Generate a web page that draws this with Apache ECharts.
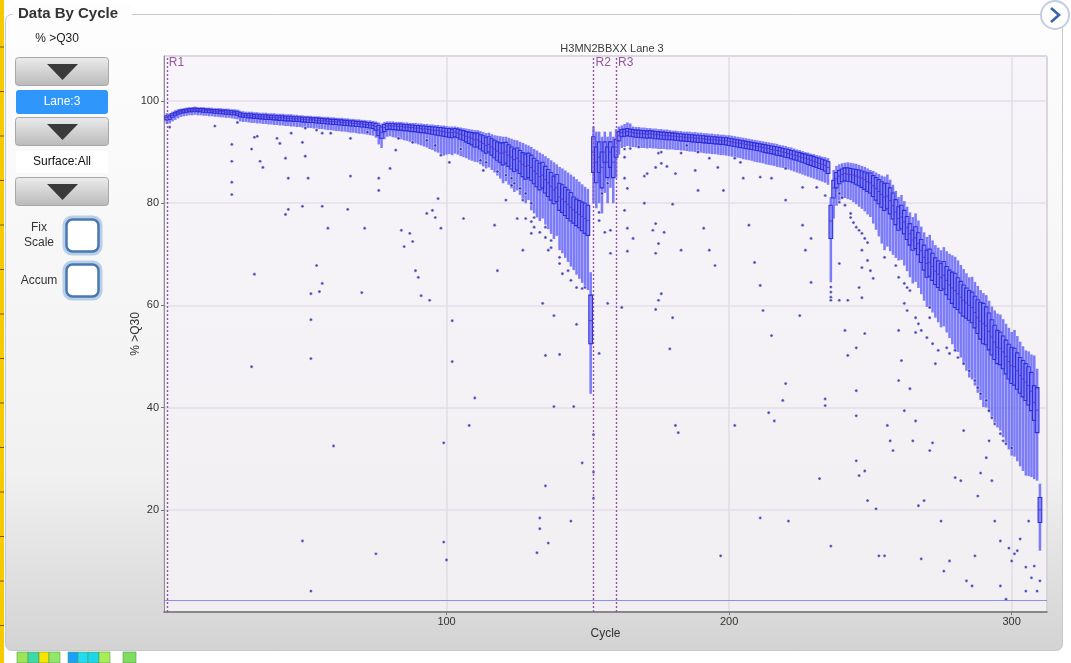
<!DOCTYPE html>
<html><head><meta charset="utf-8">
<script src="https://cdn.jsdelivr.net/npm/echarts@6/dist/echarts.min.js"></script>
<style>html,body{margin:0;padding:0;background:#fff;}#c{width:1071px;height:663px;}</style>
</head><body><div id="c"></div><script>
// ---------------- data ----------------
const chartTitle = 'H3MN2BBXX Lane 3';
const panelTitle = 'Data By Cycle';
const metricName = '% >Q30';
const xName = 'Cycle';
const readStarts = [1, 152, 160];
const readLabels = ['R1', 'R2', 'R3'];
const baselineValue = 2.3;
// each row: [low whisker, Q1, median, Q3, high whisker]
const read1Boxes = [ // cycles 1..151
[95.5,96.3,96.8,97.1,97.6],[95.6,96.4,96.9,97.2,97.6],[96.0,96.8,97.2,97.5,97.9],[96.3,97.1,97.5,97.8,98.2],[96.6,97.4,97.7,98.0,98.4],
[96.9,97.6,97.9,98.2,98.5],[97.0,97.7,98.0,98.3,98.6],[97.1,97.8,98.1,98.4,98.7],[97.2,97.9,98.2,98.5,98.8],[97.2,97.9,98.2,98.5,98.8],
[97.3,98.0,98.3,98.6,98.9],[97.2,97.9,98.2,98.5,98.8],[97.2,97.9,98.2,98.5,98.8],[97.1,97.8,98.2,98.5,98.8],[97.1,97.8,98.1,98.4,98.7],
[97.0,97.7,98.1,98.4,98.7],[97.0,97.7,98.0,98.3,98.7],[96.9,97.6,98.0,98.3,98.6],[96.9,97.6,97.9,98.3,98.6],[96.8,97.5,97.9,98.2,98.6],
[96.8,97.5,97.9,98.2,98.5],[96.7,97.4,97.8,98.2,98.5],[96.7,97.4,97.8,98.1,98.5],[96.6,97.3,97.7,98.1,98.4],[96.5,97.3,97.7,98.0,98.4],
[96.4,97.2,97.6,98.0,98.3],[96.0,96.9,97.3,97.7,98.1],[95.9,96.8,97.2,97.6,98.0],[95.9,96.8,97.2,97.5,97.9],[95.8,96.7,97.1,97.5,97.9],
[95.7,96.7,97.1,97.5,97.9],[95.7,96.6,97.0,97.4,97.8],[95.6,96.6,97.0,97.4,97.8],[95.6,96.5,96.9,97.3,97.7],[95.5,96.5,96.9,97.3,97.7],
[95.5,96.4,96.9,97.3,97.7],[95.4,96.4,96.8,97.2,97.6],[95.4,96.4,96.8,97.2,97.6],[95.3,96.3,96.8,97.2,97.6],[95.3,96.3,96.7,97.1,97.5],
[95.2,96.2,96.7,97.1,97.5],[95.2,96.2,96.7,97.1,97.5],[95.1,96.1,96.6,97.0,97.4],[95.1,96.1,96.6,97.0,97.4],[95.0,96.1,96.6,97.0,97.4],
[95.0,96.0,96.5,96.9,97.3],[94.9,96.0,96.5,96.9,97.3],[94.9,96.0,96.5,96.9,97.2],[94.8,95.9,96.4,96.8,97.2],[94.8,95.9,96.4,96.8,97.1],
[94.7,95.8,96.3,96.8,97.1],[94.7,95.8,96.3,96.7,97.1],[94.6,95.8,96.3,96.7,97.0],[94.6,95.7,96.2,96.7,97.0],[94.5,95.7,96.2,96.6,97.0],
[94.5,95.6,96.1,96.6,96.9],[94.4,95.6,96.1,96.5,96.9],[94.3,95.5,96.0,96.5,96.9],[94.3,95.5,96.0,96.4,96.8],[94.2,95.4,96.0,96.4,96.8],
[94.1,95.4,95.9,96.4,96.7],[94.1,95.3,95.9,96.3,96.7],[94.0,95.3,95.8,96.3,96.7],[94.0,95.2,95.8,96.2,96.6],[93.9,95.2,95.7,96.2,96.6],
[93.8,95.1,95.7,96.1,96.5],[93.8,95.1,95.6,96.1,96.5],[93.7,95.0,95.6,96.0,96.4],[93.6,95.0,95.5,96.0,96.4],[93.6,94.9,95.5,95.9,96.3],
[93.5,94.9,95.4,95.9,96.3],[93.4,94.8,95.4,95.8,96.2],[93.3,94.7,95.3,95.8,96.2],[93.2,94.6,95.2,95.7,96.1],[92.8,94.3,95.0,95.6,96.0],
[91.5,93.2,94.3,95.2,95.8],[90.8,92.7,93.8,94.9,95.6],[92.5,94.0,94.8,95.4,95.9],[93.0,94.4,95.1,95.6,96.0],[93.1,94.5,95.2,95.6,96.0],
[92.9,94.4,95.1,95.6,96.0],[92.8,94.4,95.1,95.5,95.9],[92.6,94.3,95.0,95.5,95.9],[92.5,94.3,95.0,95.5,95.9],[92.3,94.2,94.9,95.4,95.8],
[92.2,94.2,94.9,95.4,95.8],[92.0,94.1,94.8,95.3,95.7],[91.9,94.0,94.8,95.3,95.7],[91.7,94.0,94.7,95.2,95.7],[91.5,93.9,94.7,95.2,95.6],
[91.3,93.8,94.6,95.1,95.6],[91.1,93.8,94.5,95.1,95.5],[90.9,93.7,94.5,95.0,95.5],[90.6,93.6,94.4,95.0,95.4],[90.4,93.5,94.3,94.9,95.4],
[90.1,93.4,94.2,94.9,95.3],[89.9,93.3,94.2,94.8,95.3],[89.6,93.2,94.1,94.8,95.2],[89.3,93.1,94.0,94.7,95.2],[89.5,93.0,93.9,94.6,95.1],
[89.6,92.9,93.8,94.6,95.0],[89.4,92.8,93.8,94.5,95.0],[89.7,93.0,93.9,94.6,95.0],[89.5,92.8,93.7,94.5,94.9],[89.2,92.5,93.5,94.3,94.8],
[89.0,92.3,93.3,94.2,94.7],[88.8,92.0,93.1,94.0,94.6],[88.5,91.7,92.9,93.9,94.5],[88.3,91.4,92.7,93.8,94.4],[88.1,91.0,92.4,93.7,94.3],
[88.0,91.0,92.4,93.7,94.3],[87.6,90.6,92.0,93.4,94.1],[87.2,90.2,91.7,93.2,93.9],[86.8,89.8,91.3,92.9,93.7],[87.0,90.0,91.5,93.0,93.8],
[86.5,89.4,91.0,92.6,93.5],[86.0,88.9,90.6,92.3,93.3],[85.4,88.4,90.2,92.0,93.2],[84.8,88.0,89.8,91.8,93.1],[83.9,87.5,89.8,91.8,93.0],
[84.3,87.8,90.0,91.9,93.0],[83.6,87.2,89.4,91.4,92.8],[82.9,86.7,89.0,91.0,92.6],[82.2,86.2,88.5,90.6,92.4],[82.5,86.5,88.8,90.8,92.3],
[81.6,85.8,88.2,90.3,92.0],[80.8,85.2,87.6,89.9,91.8],[80.0,84.7,87.2,89.6,91.5],[80.6,85.0,87.4,89.8,91.3],[78.6,84.5,87.0,89.4,91.0],
[78.0,83.8,86.3,88.8,90.6],[77.2,83.2,85.8,88.3,90.3],[76.5,82.6,85.2,87.8,89.9],[77.0,83.0,85.5,88.0,89.6],[75.8,82.0,84.6,87.2,89.2],
[74.9,81.3,84.0,86.6,88.8],[74.0,80.6,83.3,86.0,88.4],[73.0,79.9,82.6,85.3,88.0],[73.6,80.3,83.0,85.6,87.6],[70.8,78.6,81.2,83.9,87.1],
[70.2,78.2,80.8,83.6,86.8],[69.3,77.6,80.3,83.1,86.4],[68.5,77.0,79.8,82.6,86.0],[67.6,76.5,79.2,82.1,85.6],[66.9,76.1,78.7,81.2,85.2],
[66.0,75.6,78.2,80.8,84.7],[65.2,75.2,77.8,80.5,84.2],[64.4,74.6,77.4,80.2,83.7],[63.6,74.1,77.0,80.0,83.2],[63.0,73.7,76.6,79.6,82.8],
[42.7,52.5,57.0,62.0,66.5]
];
const indexBoxes = [ // cycles 152..159
[80.0,86.0,90.0,93.0,95.0],[79.0,84.0,88.0,91.0,94.0],[80.0,86.0,89.0,92.0,94.0],[78.0,83.0,87.0,90.0,93.0],
[82.0,88.0,90.0,92.0,94.0],[80.0,85.0,88.0,91.0,93.0],[83.0,87.0,90.0,92.0,94.0],[80.0,85.0,88.0,91.0,93.0]
];
const read3Boxes = [ // cycles 160..310
[85.0,89.0,91.0,92.5,94.5],[89.5,92.2,93.2,94.0,95.0],[90.8,93.0,93.8,94.4,95.2],[91.0,93.1,93.9,94.5,95.5],[91.2,93.2,94.0,94.6,95.8],
[91.0,93.1,93.9,94.5,95.6],[91.0,93.0,93.8,94.4,95.0],[90.9,92.9,93.7,94.3,94.9],[90.9,92.9,93.7,94.3,94.9],[90.8,92.8,93.6,94.2,94.8],
[90.8,92.8,93.6,94.2,94.8],[90.7,92.7,93.5,94.1,94.7],[90.8,92.8,93.6,94.2,94.7],[90.7,92.7,93.5,94.1,94.6],[90.7,92.6,93.4,94.0,94.6],
[90.6,92.6,93.4,94.0,94.5],[90.6,92.5,93.3,93.9,94.5],[90.6,92.5,93.3,93.9,94.4],[90.5,92.4,93.2,93.8,94.4],[90.5,92.4,93.2,93.8,94.3],
[90.5,92.4,93.1,93.7,94.2],[90.4,92.3,93.1,93.7,94.2],[90.4,92.3,93.0,93.6,94.1],[90.3,92.2,93.0,93.6,94.1],[90.3,92.2,92.9,93.5,94.0],
[90.2,92.1,92.9,93.5,94.0],[90.1,92.1,92.8,93.4,94.0],[90.1,92.0,92.8,93.4,93.9],[90.0,92.0,92.7,93.3,93.9],[89.9,91.9,92.7,93.3,93.8],
[89.9,91.9,92.6,93.2,93.8],[89.8,91.8,92.6,93.2,93.7],[89.7,91.8,92.5,93.1,93.7],[89.7,91.7,92.5,93.1,93.6],[89.6,91.7,92.4,93.0,93.6],
[89.6,91.6,92.4,93.0,93.5],[89.5,91.6,92.3,92.9,93.5],[89.4,91.5,92.3,92.9,93.4],[89.4,91.5,92.2,92.8,93.4],[89.3,91.4,92.2,92.8,93.3],
[89.2,91.3,92.1,92.7,93.3],[89.1,91.2,92.0,92.6,93.2],[89.0,91.1,91.9,92.5,93.1],[88.9,91.0,91.8,92.4,93.0],[88.8,90.9,91.7,92.3,92.9],
[88.6,90.8,91.6,92.2,92.8],[88.5,90.7,91.5,92.1,92.7],[88.4,90.6,91.4,92.0,92.6],[88.3,90.5,91.3,91.9,92.5],[88.1,90.4,91.2,91.8,92.4],
[88.0,90.3,91.1,91.7,92.3],[87.9,90.2,91.0,91.6,92.2],[87.8,90.0,90.9,91.5,92.1],[87.6,89.9,90.8,91.4,92.0],[87.5,89.8,90.7,91.3,91.9],
[87.4,89.7,90.5,91.2,91.8],[87.3,89.6,90.4,91.1,91.7],[87.1,89.4,90.3,91.0,91.6],[87.0,89.3,90.2,90.9,91.4],[86.9,89.2,90.0,90.7,91.3],
[86.8,89.0,89.9,90.6,91.2],[86.6,88.9,89.7,90.5,91.0],[86.4,88.7,89.6,90.3,90.9],[86.2,88.5,89.4,90.2,90.7],[86.0,88.4,89.3,90.0,90.5],
[85.8,88.2,89.1,89.9,90.4],[85.6,88.0,88.9,89.7,90.2],[85.4,87.8,88.8,89.6,90.0],[85.2,87.6,88.6,89.4,89.9],[85.0,87.4,88.4,89.3,89.7],
[84.8,87.2,88.2,89.1,89.6],[84.6,87.0,88.0,88.9,89.4],[84.4,86.8,87.8,88.8,89.3],[84.2,86.6,87.6,88.6,89.1],[84.0,86.3,87.4,88.4,89.0],
[83.6,85.8,87.0,88.1,88.8],[64.5,73.1,76.5,79.6,81.2],[77.0,81.0,83.0,84.5,86.5],[79.5,83.0,84.8,86.0,87.3],[80.5,83.8,85.3,86.4,87.6],
[80.8,84.2,85.6,86.7,87.8],[81.0,84.4,85.8,86.9,87.9],[80.8,84.3,85.7,86.9,88.0],[80.6,84.2,85.6,86.8,87.9],[80.2,84.0,85.5,86.7,87.8],
[79.8,83.7,85.3,86.6,87.7],[79.3,83.4,85.1,86.5,87.5],[78.9,83.1,84.9,86.3,87.3],[78.4,82.7,84.6,86.1,87.1],[77.8,82.3,84.2,85.9,86.8],
[77.3,82.0,84.0,85.9,86.5],[76.0,81.3,83.4,85.4,86.3],[74.8,80.6,82.9,85.0,86.0],[73.5,79.9,82.3,84.6,85.7],[72.1,79.2,81.7,84.2,85.4],
[70.8,78.6,81.2,83.9,85.2],[71.5,78.9,81.4,83.9,85.6],[70.6,77.9,80.5,83.0,84.6],[69.9,76.9,79.5,82.0,83.6],[69.3,75.8,78.3,80.7,82.4],
[68.8,74.7,77.0,79.3,81.2],[68.9,75.0,77.3,79.6,81.6],[67.8,74.0,76.3,78.6,80.4],[66.7,72.9,75.2,77.4,79.3],[65.5,71.8,74.0,76.0,78.2],
[64.3,70.8,72.8,74.7,77.3],[64.6,71.1,73.2,75.4,78.0],[63.4,69.9,72.1,74.2,76.6],[62.2,68.4,70.7,72.9,75.4],[60.9,66.9,69.4,71.8,74.3],
[59.7,65.5,68.2,70.8,73.4],[59.5,65.7,68.4,71.0,73.8],[58.6,64.9,67.6,70.2,72.7],[57.6,64.1,66.7,69.3,71.8],[56.7,63.5,66.1,68.7,71.3],
[55.7,62.9,65.5,68.2,70.8],[55.9,63.2,65.9,68.6,71.4],[54.7,62.1,64.9,67.6,70.6],[53.6,61.2,64.0,66.9,70.1],[52.4,60.4,63.4,66.5,69.8],
[51.2,59.6,62.9,66.3,69.5],[50.9,59.2,62.3,65.4,68.8],[49.8,58.5,61.6,64.7,67.9],[48.6,57.9,61.0,64.0,67.1],[47.2,57.5,60.5,63.4,66.3],
[45.9,57.1,60.0,62.9,65.5],[45.5,56.6,59.6,62.6,65.6],[44.3,55.6,58.6,61.8,64.6],[42.9,54.5,57.6,61.1,63.8],[41.5,53.4,56.9,60.6,63.0],
[40.1,52.5,56.4,60.4,62.4],[40.0,52.3,56.0,59.7,62.0],[39.1,51.3,54.9,58.5,60.9],[38.1,50.3,53.8,57.2,59.8],[37.1,49.4,52.8,56.1,59.0],
[36.1,48.6,51.8,55.1,58.4],[35.5,48.4,51.6,54.8,58.2],[34.2,47.6,50.9,54.0,57.3],[33.0,46.6,50.0,53.2,56.4],[31.8,45.6,49.0,52.4,55.6],
[30.6,44.7,48.2,51.8,54.8],[30.4,44.4,48.0,51.6,55.2],[29.5,43.6,47.2,50.7,54.0],[28.5,42.8,46.3,49.8,52.9],[27.6,42.1,45.6,49.2,52.0],
[26.7,41.4,45.0,48.6,51.2],[26.6,40.5,44.3,48.0,51.0],[26.4,39.4,43.2,46.9,50.4],[26.0,37.5,41.0,44.3,50.2],[25.7,35.1,39.5,43.9,47.6],
[12.0,17.5,20.0,22.4,25.1]
];
// outlier tiles: [cycle, value]
const outliers = [
[2,94.9],[18,95.1],[24,91.5],[24,88.2],[24,84.1],[24,81.7],[26,95.8],[31,90.6],[31,48.0],[32,92.9],[32,66.1],[33,93.1],[34,88.2],[35,87.0],
[40,92.7],[41,91.7],[43,88.8],[43,77.8],[44,84.9],[44,78.8],[45,93.7],[49,91.9],[49,79.4],[49,13.9],[50,89.2],[50,94.7],[51,84.9],[52,62.3],
[52,57.2],[52,49.6],[52,4.1],[54,67.8],[54,94.3],[55,62.7],[56,93.7],[56,79.4],[56,64.3],[58,75.1],[59,93.7],[60,32.5],[65,78.8],[66,85.3],
[66,92.7],[70,62.5],[71,75.1],[72,93.9],[75,11.4],[76,84.9],[76,82.5],[80,86.8],[82,90.4],[83,92.7],[84,74.7],[85,71.5],[87,74.1],[88,72.5],
[88,91.9],[89,66.8],[90,65.5],[91,61.9],[93,78.0],[93,92.3],[94,61.0],[95,78.6],[96,77.2],[96,91.3],[97,80.9],[98,75.1],[98,89.4],[99,33.1],
[99,13.7],[100,10.2],[101,88.0],[102,57.0],[102,49.0],[105,90.6],[106,77.0],[108,36.5],[110,41.9],[112,88.4],[113,86.4],[114,88.0],[117,75.7],
[118,66.8],[118,86.2],[121,80.6],[121,85.5],[123,84.9],[123,83.5],[124,83.9],[125,77.0],[126,82.9],[127,70.8],[127,80.6],[128,81.9],[128,77.0],
[130,80.0],[130,76.4],[130,74.1],[131,77.2],[131,75.3],[132,11.6],[133,16.3],[133,18.4],[133,74.3],[134,60.4],[135,50.2],[135,24.7],[135,75.3],
[135,73.3],[136,13.5],[136,70.8],[137,72.7],[137,71.3],[138,40.2],[138,58.0],[140,50.4],[140,69.4],[140,68.2],[141,66.2],[143,66.8],[144,17.8],
[144,64.9],[145,40.2],[146,56.3],[146,63.5],[148,29.2],[148,63.3],[149,63.5],[152,34.7],[152,27.4],[152,22.3],
[154,78.2],[154,76.6],[156,74.3],[158,74.7],[158,70.2],[157,83.9],[155,81.9],[157,60.4],[154,50.6],
[162,59.6],[163,90.6],[163,84.9],[163,78.6],[163,89.0],[164,75.1],[164,70.6],[164,82.9],[165,90.7],[166,73.1],[168,91.0],[170,80.0],[170,85.3],
[171,85.8],[173,74.7],[174,76.0],[174,70.2],[174,87.0],[174,59.2],[175,72.1],[175,89.8],[175,61.0],[176,87.8],[176,62.3],[176,90.0],[177,74.3],
[178,87.2],[179,51.5],[180,79.8],[180,57.6],[181,85.8],[181,36.5],[182,35.1],[183,70.8],[183,89.8],[185,91.3],[188,86.4],[189,82.5],[189,90.0],
[191,75.1],[193,70.8],[193,88.8],[195,67.8],[196,87.0],[197,11.0],[198,82.5],[202,36.5],[202,88.8],[204,88.0],[205,84.9],[207,75.7],[209,68.4],
[211,63.9],[211,18.4],[211,85.1],[212,59.0],[214,39.0],[215,54.1],[215,84.9],[216,37.4],[219,41.4],[220,44.7],[220,80.6],[220,86.8],[221,17.8],
[225,58.0],[226,75.7],[226,83.1],[227,70.8],[229,73.1],[229,64.5],[231,83.1],[232,26.1],[234,41.7],[234,40.4],[234,81.5],[236,63.6],[236,62.6],
[236,61.6],[236,61.0],[236,12.9],[239,61.0],[239,81.9],[239,80.2],[239,68.2],[240,81.1],[241,55.1],[241,79.6],[242,61.0],[242,50.2],[243,78.0],
[243,77.2],[244,76.2],[245,43.3],[245,38.4],[245,29.6],[245,75.3],[245,51.7],[246,26.7],[246,74.7],[246,63.5],[247,74.1],[247,70.8],[247,67.4],
[247,61.5],[248,27.6],[248,73.1],[248,54.5],[249,21.8],[249,72.3],[249,68.8],[250,66.8],[251,65.3],[252,20.2],[253,11.0],[255,11.0],[255,69.4],
[256,36.5],[257,33.5],[258,31.6],[259,67.8],[260,45.3],[260,65.5],[260,55.1],[261,49.2],[262,39.4],[262,64.3],[262,60.4],[263,63.5],[263,59.0],
[264,43.7],[264,62.9],[265,33.5],[266,37.4],[266,57.6],[266,54.7],[267,20.8],[267,56.4],[268,10.4],[268,55.1],[269,21.8],[270,53.7],[271,31.6],
[271,57.6],[271,59.6],[272,33.1],[272,52.5],[273,48.6],[274,51.2],[275,17.8],[276,8.0],[277,51.7],[278,10.0],[278,50.6],[280,26.3],[280,51.2],
[281,49.8],[282,25.7],[283,35.5],[283,48.6],[284,6.1],[285,47.2],[286,5.1],[287,11.0],[287,45.3],[288,22.7],[288,43.9],[289,27.2],[289,42.7],
[291,30.2],[291,41.4],[292,33.5],[292,39.4],[293,25.7],[293,38.0],[294,17.8],[294,36.8],[296,13.9],[296,5.1],[296,34.9],[297,33.5],[298,2.5],
[298,32.9],[299,12.5],[300,10.0],[300,32.1],[301,11.4],[302,12.0],[303,14.3],[305,8.8],[305,4.1],[306,17.8],[307,6.7],[308,9.0],[309,4.1],[310,6.1]
];
const xTickValues = [100, 200, 300];
const yTickValues = [20, 40, 60, 80, 100];
const leftControls = { lane: 'Lane:3', surface: 'Surface:All', fix: ['Fix', 'Scale'], accum: 'Accum' };
const bottomSwatches = ['#9be55a','#3fd8a8','#f7e400','#8fe86a','#1aa0ff','#22dcf5','#1ad8e8','#a8ec5a','#7edc62'];

// ---------------- build ----------------
const allBoxes = [];
read1Boxes.forEach((b, i) => allBoxes.push([1 + i].concat(b)));
indexBoxes.forEach((b, i) => allBoxes.push([152 + i].concat(b)));
read3Boxes.forEach((b, i) => allBoxes.push([160 + i].concat(b)));

const chart = echarts.init(document.getElementById('c'), null, { renderer: 'canvas' });
const FONT = 'Liberation Sans, Arial, sans-serif';

function btn(y) {
  return [
    { type: 'rect', z: 20, shape: { x: 15.5, y: y + 0.5, width: 93, height: 28, r: 3 },
      style: { fill: new echarts.graphic.LinearGradient(0, 0, 0, 1, [{ offset: 0, color: '#ececec' }, { offset: 1, color: '#b9b9b9' }]), stroke: '#a8a8a8', lineWidth: 1 } },
    { type: 'polygon', z: 21, shape: { points: [[47, y + 7], [78, y + 7], [62.5, y + 23]] }, style: { fill: '#3a3a3a' } }
  ];
}
function checkbox(y) {
  return [
    { type: 'rect', z: 20, shape: { x: 65, y: y, width: 35, height: 35, r: 7 }, style: { fill: '#ffffff', stroke: '#b9cfe8', lineWidth: 5 } },
    { type: 'rect', z: 21, shape: { x: 66.5, y: y + 1.5, width: 32, height: 32, r: 6 }, style: { fill: '#ffffff', stroke: '#4a78b0', lineWidth: 2.5 } }
  ];
}
const graphics = [
  { type: 'rect', z: -100, silent: true, shape: { x: 5.5, y: 14.5, width: 1057, height: 636, r: 6 },
    style: { fill: new echarts.graphic.LinearGradient(0, 0, 0, 1, [{ offset: 0, color: '#fdfdfd' }, { offset: 0.72, color: '#f1f1f1' }, { offset: 1, color: '#d3d3d3' }]), stroke: '#c8c8c8', lineWidth: 1 } },
  { type: 'rect', z: 20, shape: { x: 13, y: 4, width: 119, height: 20 }, style: { fill: '#fdfdfd' } },
  { type: 'text', z: 21, style: { x: 18, y: 6, text: panelTitle, font: 'bold 15px ' + FONT, fill: '#333333' } },
  { type: 'circle', z: 20, shape: { cx: 1055, cy: 15, r: 14 }, style: { fill: '#ffffff', stroke: '#c3cde0', lineWidth: 2 } },
  { type: 'polyline', z: 21, shape: { points: [[1051, 8], [1059, 15], [1051, 22]] }, style: { stroke: '#3d62a8', lineWidth: 2.6, fill: null } },
  { type: 'rect', z: 30, shape: { x: 0, y: 0, width: 4, height: 663 }, style: { fill: '#f6c900' } },
  { type: 'rect', z: 30, shape: { x: 0, y: 651, width: 1071, height: 12 }, style: { fill: '#ffffff' } },
  { type: 'rect', z: 31, shape: { x: 0, y: 651, width: 4, height: 12 }, style: { fill: '#f6c900' } },
  { type: 'text', z: 21, style: { x: 57, y: 39, text: metricName, font: '12px ' + FONT, fill: '#222', align: 'center', verticalAlign: 'middle' } },
  ...btn(57),
  { type: 'rect', z: 20, shape: { x: 16, y: 90, width: 92, height: 24, r: 3 }, style: { fill: '#2f96fb' } },
  { type: 'text', z: 21, style: { x: 62, y: 102, text: leftControls.lane, font: '12px ' + FONT, fill: '#ffffff', align: 'center', verticalAlign: 'middle' } },
  ...btn(117),
  { type: 'rect', z: 20, shape: { x: 16, y: 151, width: 92, height: 22 }, style: { fill: '#ffffff' } },
  { type: 'text', z: 21, style: { x: 62, y: 162, text: leftControls.surface, font: '12px ' + FONT, fill: '#111', align: 'center', verticalAlign: 'middle' } },
  ...btn(177),
  { type: 'text', z: 21, style: { x: 39, y: 228, text: leftControls.fix[0], font: '12px ' + FONT, fill: '#333', align: 'center', verticalAlign: 'middle' } },
  { type: 'text', z: 21, style: { x: 39, y: 243, text: leftControls.fix[1], font: '12px ' + FONT, fill: '#333', align: 'center', verticalAlign: 'middle' } },
  ...checkbox(218),
  { type: 'text', z: 21, style: { x: 39, y: 281, text: leftControls.accum, font: '12px ' + FONT, fill: '#333', align: 'center', verticalAlign: 'middle' } },
  ...checkbox(263)
];
for (let k = 0; k < 15; k++) {
  graphics.push({ type: 'line', z: 31, shape: { x1: 0, y1: 47 + k * 44.5, x2: 4, y2: 47 + k * 44.5 }, style: { stroke: '#6b5a00', lineWidth: 1 } });
}
const swX = [17, 28, 39, 49, 68, 78, 88, 99, 123];
const swW = [11, 11, 10, 11, 10, 10, 11, 11, 13];
bottomSwatches.forEach((col, k) => {
  graphics.push({ type: 'rect', z: 31, shape: { x: swX[k], y: 652, width: swW[k], height: 11 }, style: { fill: col, stroke: '#5a9a4a', lineWidth: 0.6 } });
});

const option = {
  animation: false,
  backgroundColor: 'transparent',
  textStyle: { fontFamily: FONT },
  title: { text: chartTitle, left: 607, top: 38, textAlign: 'center',
    textStyle: { fontSize: 11, fontWeight: 'normal', color: '#3a3a3a', fontFamily: FONT } },
  graphic: { elements: graphics },
  grid: { left: 164, right: 24, top: 56, bottom: 51, show: true,
    backgroundColor: new echarts.graphic.LinearGradient(0, 0, 0, 1, [{ offset: 0, color: '#f8f5fa' }, { offset: 1, color: '#f1eff2' }]),
    borderColor: '#8e8e8e', borderWidth: 1 },
  xAxis: {
    type: 'value', min: 0, max: 312.5, interval: 100,
    name: xName, nameLocation: 'middle', nameGap: 16, nameMoveOverlap: false,
    nameTextStyle: { fontSize: 12, color: '#333' },
    axisLine: { show: true, lineStyle: { color: '#6e6e6e', width: 1.5 } },
    axisTick: { show: true, length: 3, lineStyle: { color: '#777' } },
    axisLabel: { fontSize: 11, color: '#333', margin: 4, showMinLabel: false, showMaxLabel: false,
      formatter: v => (xTickValues.indexOf(v) >= 0 ? String(v) : '') },
    splitLine: { show: true, lineStyle: { color: '#e1dde4', width: 1.5 } }
  },
  yAxis: {
    type: 'value', min: 0, max: 108.8, interval: 20,
    name: metricName, nameLocation: 'middle', nameGap: 22, nameRotate: 90, nameMoveOverlap: false,
    nameTextStyle: { fontSize: 12, color: '#333' },
    axisLine: { show: true, lineStyle: { color: '#8e8e8e' } },
    axisTick: { show: true, length: 3, lineStyle: { color: '#777' } },
    axisLabel: { fontSize: 11, color: '#333', margin: 5, showMinLabel: false, showMaxLabel: false,
      formatter: v => (yTickValues.indexOf(v) >= 0 ? String(v) : '') },
    splitLine: { show: true, lineStyle: { color: '#e6dce8', width: 1.5 } }
  },
  series: [
    {
      type: 'custom', name: 'boxes', z: 3,
      data: allBoxes,
      encode: { x: 0, y: [1, 2, 3, 4, 5] },
      renderItem: function (params, api) {
        const c = api.value(0);
        const pLo = api.coord([c, api.value(1)]);
        const pQ1 = api.coord([c, api.value(2)]);
        const pMed = api.coord([c, api.value(3)]);
        const pQ3 = api.coord([c, api.value(4)]);
        const pHi = api.coord([c, api.value(5)]);
        const unit = api.size([1, 0])[0];
        const ww = unit * 0.9, bw = unit * 1.3;
        return { type: 'group', children: [
          { type: 'rect', shape: { x: pHi[0] - ww / 2, y: pHi[1], width: ww, height: Math.max(1, pLo[1] - pHi[1]) },
            style: { fill: 'rgba(98,98,248,0.82)' } },
          { type: 'rect', shape: { x: pQ3[0] - bw / 2, y: pQ3[1], width: bw, height: Math.max(1.5, pQ1[1] - pQ3[1]) },
            style: { fill: 'rgba(140,140,255,0.6)', stroke: '#2c2cd8', lineWidth: 1.1 } },
          { type: 'line', shape: { x1: pMed[0] - bw / 2, y1: pMed[1], x2: pMed[0] + bw / 2, y2: pMed[1] },
            style: { stroke: '#5a3ccc', lineWidth: 1 } }
        ] };
      },
      markLine: {
        silent: true, symbol: ['none', 'none'], animation: false,
        label: { show: false },
        data: [
          { yAxis: baselineValue, lineStyle: { color: 'rgba(112,112,230,0.75)', width: 1.2, type: 'solid' } },
          ...readStarts.map(r => ({ xAxis: r, lineStyle: { color: '#9454a8', width: 1.4, type: [2, 2] } }))
        ]
      }
    },
    {
      type: 'scatter', name: 'outliers', z: 4,
      symbol: 'circle', symbolSize: 3.2,
      itemStyle: { color: '#2323a8', borderColor: 'rgba(255,255,255,0.7)', borderWidth: 0.8 },
      data: outliers
    },
    {
      type: 'scatter', name: 'reads', z: 5, silent: true,
      symbolSize: 0,
      data: readStarts.map((r, k) => ({ value: [r, 108.8], name: readLabels[k] })),
      label: { show: true, position: [2, 1], formatter: p => p.name, color: '#7a2a86', fontSize: 12, fontFamily: FONT, align: 'left', verticalAlign: 'top' }
    }
  ]
};
chart.setOption(option);
</script></body></html>
